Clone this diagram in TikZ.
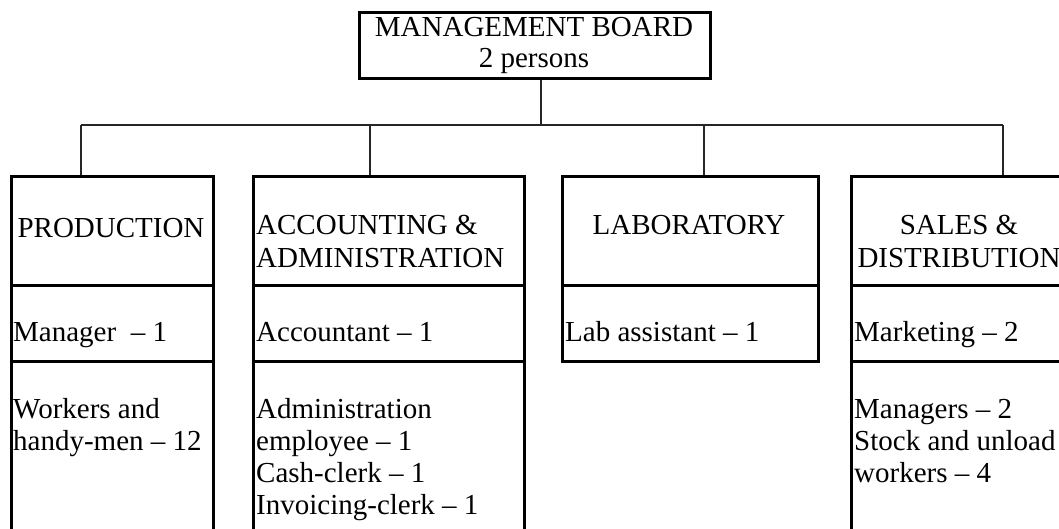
\documentclass[tikz,border=0pt]{standalone}
\usepackage{fontspec}
\setmainfont{Liberation Serif}
\begin{document}
\begin{tikzpicture}[x=1pt,y=-1pt,
  cell/.style={draw=black,line width=2.8pt,rectangle,inner sep=0pt,anchor=north west},
  wire/.style={draw=black!85,line width=2pt},
  lbl/.style={inner sep=0pt,anchor=base west,font=\fontsize{29}{32.5}\selectfont},
  clbl/.style={inner sep=0pt,anchor=base,font=\fontsize{29}{32.5}\selectfont}]
\useasboundingbox (0,0) rectangle (1059,529);
\clip (0,0) rectangle (1059,529);

% management board
\node[cell,minimum width=351pt,minimum height=66pt] (board) at (358,11) {};
\node[clbl] (boardA) at (534,37) {MANAGEMENT BOARD};
\node[clbl] (boardB) at (534,68) {2 persons};

% production column
\node[cell,minimum width=202pt,minimum height=109pt] (prodH) at (10,175) {};
\node[cell,minimum width=202pt,minimum height=76pt]  (prodM) at (10,284) {};
\node[cell,minimum width=202pt,minimum height=200pt] (prodB) at (10,360) {};
\node[clbl] (prodT) at (111,237) {PRODUCTION};
\node[lbl] (prodM1) at (13,341) {Manager~ – 1};
\node[lbl] (prodB1) at (13,418) {Workers and};
\node[lbl] (prodB2) at (13,450) {handy-men – 12};

% accounting column
\node[cell,minimum width=271pt,minimum height=109pt] (accH) at (252,175) {};
\node[cell,minimum width=271pt,minimum height=76pt]  (accM) at (252,284) {};
\node[cell,minimum width=271pt,minimum height=200pt] (accB) at (252,360) {};
\node[lbl] (accT1) at (256,235) {ACCOUNTING \&};
\node[lbl] (accT2) at (256,267) {ADMINISTRATION};
\node[lbl] (accM1) at (256,341) {Accountant – 1};
\node[lbl] (accB1) at (256,418) {Administration};
\node[lbl] (accB2) at (256,450) {employee – 1};
\node[lbl] (accB3) at (256,482) {Cash-clerk – 1};
\node[lbl] (accB4) at (256,514) {Invoicing-clerk – 1};

% laboratory column
\node[cell,minimum width=256pt,minimum height=109pt] (labH) at (561,175) {};
\node[cell,minimum width=256pt,minimum height=76pt]  (labM) at (561,284) {};
\node[clbl] (labT) at (689,235) {LABORATORY};
\node[lbl] (labM1) at (565,341) {Lab assistant – 1};

% sales column
\node[cell,minimum width=218pt,minimum height=109pt] (salH) at (850,175) {};
\node[cell,minimum width=218pt,minimum height=76pt]  (salM) at (850,284) {};
\node[cell,minimum width=218pt,minimum height=200pt] (salB) at (850,360) {};
\node[clbl] (salT1) at (959,235) {SALES \&};
\node[clbl] (salT2) at (959,267) {DISTRIBUTION};
\node[lbl] (salM1) at (854,341) {Marketing – 2};
\node[lbl] (salB1) at (854,418) {Managers – 2};
\node[lbl] (salB2) at (854,450) {Stock and unload};
\node[lbl] (salB3) at (854,482) {workers – 4};

% connector points on the bus line
\coordinate (trunk) at (541,125);
\coordinate (busP) at (81,125);
\coordinate (busA) at (370,125);
\coordinate (busL) at (704,125);
\coordinate (busS) at (1003,125);

\draw[wire] (board.south -| trunk) -- (trunk);
\draw[wire] (busP) -- (busS);
\draw[wire] (busP) -- (prodH.north -| busP);
\draw[wire] (busA) -- (accH.north -| busA);
\draw[wire] (busL) -- (labH.north -| busL);
\draw[wire] (busS) -- (salH.north -| busS);
\end{tikzpicture}
\end{document}
